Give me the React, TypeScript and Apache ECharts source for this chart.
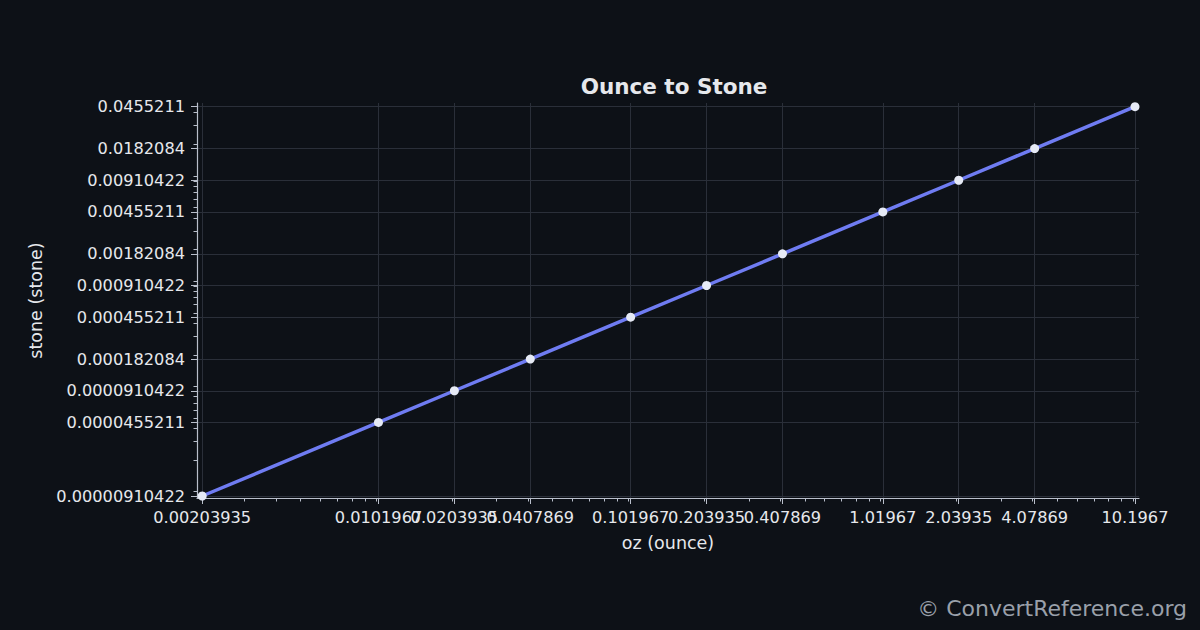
import * as echarts from 'echarts';
import React, { useEffect, useRef } from 'react';

// ounce values (x) and the matching stone values (y)
const ounceValues = [0.00203935, 0.0101967, 0.0203935, 0.0407869, 0.101967, 0.203935, 0.407869, 1.01967, 2.03935, 4.07869, 10.1967];
const stoneValues = [0.00000910422, 0.0000455211, 0.0000910422, 0.000182084, 0.000455211, 0.000910422, 0.00182084, 0.00455211, 0.00910422, 0.0182084, 0.0455211];

const xTickLabels = ['0.00203935', '0.0101967', '0.0203935', '0.0407869', '0.101967', '0.203935', '0.407869', '1.01967', '2.03935', '4.07869', '10.1967'];
const yTickLabels = ['0.00000910422', '0.0000455211', '0.0000910422', '0.000182084', '0.000455211', '0.000910422', '0.00182084', '0.00455211', '0.00910422', '0.0182084', '0.0455211'];

const log = (v: number) => Math.log10(v);

// minor log ticks (k * 10^n) inside a range
const minorTicks = (lo: number, hi: number) => {
  const out: number[] = [];
  for (let n = -7; n <= 2; n++) {
    for (let k = 1; k <= 9; k++) {
      const v = k * Math.pow(10, n);
      if (v >= lo && v <= hi) out.push(log(v));
    }
  }
  return out;
};

const nearestLabel = (labels: string[], values: number[]) => (v: number) => {
  let best = 0;
  values.forEach((x, i) => {
    if (Math.abs(log(x) - v) < Math.abs(log(values[best]) - v)) best = i;
  });
  return labels[best];
};

export default function App() {
  const chartRef = useRef<HTMLDivElement>(null);

  useEffect(() => {
    const chart = echarts.init(chartRef.current, null, { renderer: 'svg' });

    const xMin = log(ounceValues[0]) - 0.0206;
    const xMax = log(ounceValues[ounceValues.length - 1]) + 0.0159;
    const yMin = log(stoneValues[0]) - 0.019;
    const yMax = log(stoneValues[stoneValues.length - 1]) + 0.035;

    const textColor = '#e6e8ec';
    const axisColor = '#b9bfcb';
    const gridColor = '#2a2f39';
    const font = 'DejaVu Sans';

    const option = {
      backgroundColor: '#0d1117',
      animation: false,
      textStyle: { fontFamily: font },
      title: {
        text: 'Ounce to Stone',
        left: 669,
        top: 70,
        textAlign: 'center',
        textStyle: { color: textColor, fontSize: 21.5, fontWeight: 'bold', fontFamily: font },
      },
      graphic: [
        {
          type: 'text',
          right: 13,
          top: 597,
          style: { text: '© ConvertReference.org', fill: '#9aa0aa', fontSize: 22, fontFamily: font },
        },
      ],
      grid: { left: 197, right: 61, top: 103, bottom: 132, containLabel: false },
      xAxis: [
        {
          type: 'value',
          min: xMin,
          max: xMax,
          name: 'oz (ounce)',
          nameLocation: 'middle',
          nameGap: 36,
          nameTextStyle: { color: textColor, fontSize: 17.5, fontFamily: font },
          axisLine: { show: true, onZero: false, lineStyle: { color: axisColor, width: 1.2 } },
          axisTick: { show: true, customValues: ounceValues.map(log), length: 6, lineStyle: { color: axisColor } },
          axisLabel: {
            customValues: ounceValues.map(log),
            formatter: nearestLabel(xTickLabels, ounceValues),
            color: textColor,
            fontSize: 16.2,
            fontFamily: font,
            margin: 11,
            hideOverlap: false,
          },
          splitLine: { show: true, lineStyle: { color: gridColor, width: 1 } },
        },
        {
          type: 'value',
          min: xMin,
          max: xMax,
          position: 'bottom',
          axisLine: { show: false, onZero: false },
          axisTick: { show: true, customValues: minorTicks(ounceValues[0], ounceValues[ounceValues.length - 1]), length: 3.5, lineStyle: { color: axisColor } },
          axisLabel: { show: false },
          splitLine: { show: false },
        },
      ],
      yAxis: [
        {
          type: 'value',
          min: yMin,
          max: yMax,
          name: 'stone (stone)',
          nameLocation: 'middle',
          nameGap: 147,
          nameRotate: 90,
          nameTextStyle: { color: textColor, fontSize: 17.5, fontFamily: font },
          axisLine: { show: true, onZero: false, lineStyle: { color: axisColor, width: 1.2 } },
          axisTick: { show: true, customValues: stoneValues.map(log), length: 6, lineStyle: { color: axisColor } },
          axisLabel: {
            customValues: stoneValues.map(log),
            formatter: nearestLabel(yTickLabels, stoneValues),
            color: textColor,
            fontSize: 16.2,
            fontFamily: font,
            margin: 12,
          },
          splitLine: { show: true, lineStyle: { color: gridColor, width: 1 } },
        },
        {
          type: 'value',
          min: yMin,
          max: yMax,
          position: 'left',
          axisLine: { show: false, onZero: false },
          axisTick: { show: true, customValues: minorTicks(stoneValues[0], stoneValues[stoneValues.length - 1]), length: 3.5, lineStyle: { color: axisColor } },
          axisLabel: { show: false },
          splitLine: { show: false },
        },
      ],
      series: [
        {
          type: 'line',
          data: ounceValues.map((x, i) => [log(x), log(stoneValues[i])]),
          symbol: 'circle',
          symbolSize: 9,
          itemStyle: { color: '#e6eaf5', borderWidth: 0 },
          lineStyle: { color: '#6f7cf2', width: 3.5 },
          z: 3,
        },
      ],
    };

    chart.setOption(option);
    return () => {
      chart.dispose();
    };
  }, []);

  return (
    <div
      ref={chartRef}
      style={{ position: 'fixed', left: 0, top: 0, width: '1200px', height: '630px' }}
    ></div>
  );
}
